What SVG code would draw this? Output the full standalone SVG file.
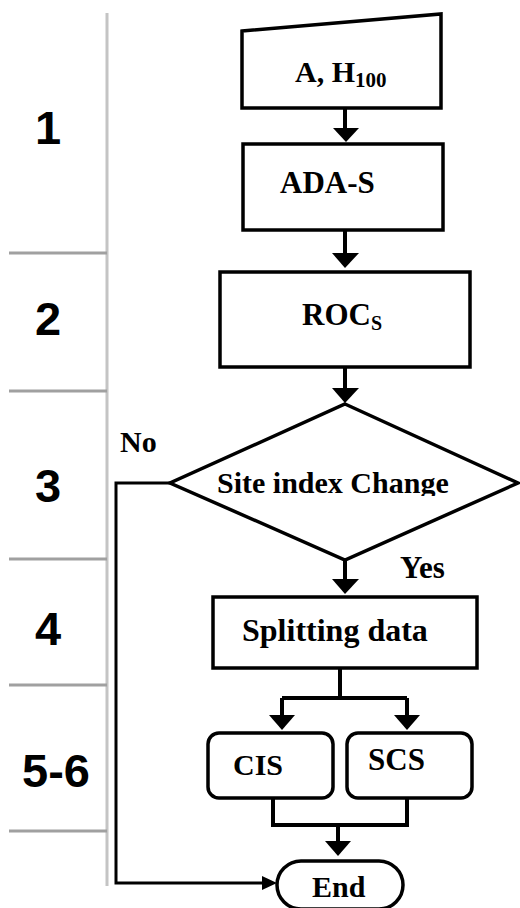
<svg xmlns="http://www.w3.org/2000/svg" width="520" height="908" viewBox="0 0 520 908">
  <style>
    .shape { fill: #ffffff; stroke: #000000; stroke-width: 3.5; }
    .wire { fill: none; stroke: #000000; stroke-width: 4; }
    .thin { fill: none; stroke: #000000; stroke-width: 3; }
    .lbl { font-family: 'Liberation Serif', 'DejaVu Serif', serif; font-weight: bold; font-size: 30px; fill: #000000; }
    .lg { font-size: 31px; }
    .xl { font-size: 32px; }
    .step { font-family: 'Liberation Sans', Arial, sans-serif; font-weight: bold; font-size: 47px; fill: #000000; text-anchor: middle; }
    .rule { stroke: #a0a0a0; stroke-width: 3; }
    .spine { stroke: #c4c4c4; stroke-width: 3; }
  </style>
  <defs>
    <clipPath id="diamondText">
      <rect x="170" y="440" width="350" height="56"/>
    </clipPath>
  </defs>
  <rect width="520" height="908" fill="#ffffff"/>

  <!-- step column -->
  <g id="steps">
    <line class="spine" x1="107" y1="13" x2="107" y2="886"/>
    <line class="rule" x1="9" y1="253" x2="107" y2="253"/>
    <line class="rule" x1="9" y1="391" x2="107" y2="391"/>
    <line class="rule" x1="9" y1="559" x2="107" y2="559"/>
    <line class="rule" x1="9" y1="685" x2="107" y2="685"/>
    <line class="rule" x1="9" y1="831" x2="107" y2="831"/>
    <text class="step" x="48" y="144">1</text>
    <text class="step" x="48" y="335">2</text>
    <text class="step" x="48" y="502">3</text>
    <text class="step" x="48" y="645">4</text>
    <text class="step" x="56" y="787">5-6</text>
  </g>

  <!-- connectors -->
  <g id="connectors">
    <path class="wire" d="M345,108 L345,132" />
    <polygon points="333,128 359,128 346,142" fill="#000"/>
    <path class="wire" d="M345,230 L345,256" />
    <polygon points="332,253 359,253 345,268" fill="#000"/>
    <path class="wire" d="M345,367 L345,391" />
    <polygon points="332,388 359,388 345,403" fill="#000"/>
    <path class="wire" d="M345,560 L345,580" />
    <polygon points="332,579 359,579 345,594" fill="#000"/>
    <path class="wire" d="M340,668 L340,698 M282,698 L407,698 M282,698 L282,716 M407,698 L407,716" />
    <polygon points="269,715 295,715 282,730" fill="#000"/>
    <polygon points="394,715 420,715 407,730" fill="#000"/>
    <path class="wire" d="M273,798 L273,825 L407,825 L407,798 M338,825 L338,842" />
    <polygon points="325,841 351,841 338,856" fill="#000"/>
    <path class="thin" d="M170,483 L116,483 L116,883 L266,883" />
    <polygon points="262,876 262,890 277,883" fill="#000"/>
    <text class="lbl" x="120" y="452">No</text>
    <text class="lbl lg" x="400" y="578">Yes</text>
  </g>

  <g id="input">
    <polygon class="shape" points="242,31 441,14 441,108 242,108"/>
    <text class="lbl" x="295" y="82">A, H<tspan font-size="21" dy="5">100</tspan></text>
  </g>

  <g id="adas">
    <rect class="shape" x="243" y="144" width="200" height="86"/>
    <text class="lbl lg" x="280" y="193">ADA-S</text>
  </g>

  <g id="rocs">
    <rect class="shape" x="220" y="272" width="250" height="95"/>
    <text class="lbl lg" x="302" y="325">ROC<tspan font-size="20" dy="5">S</tspan></text>
  </g>

  <g id="decision">
    <polygon class="shape" points="345,404 518,483 345,560 170,483"/>
    <text class="lbl" x="217" y="493" clip-path="url(#diamondText)">Site index Change</text>
  </g>

  <g id="split">
    <rect class="shape" x="213" y="597" width="264" height="71"/>
    <text class="lbl xl" x="242" y="641">Splitting data</text>
  </g>

  <g id="cis">
    <rect class="shape" x="208" y="733" width="125" height="65" rx="11"/>
    <text class="lbl" x="233" y="775">CIS</text>
  </g>

  <g id="scs">
    <rect class="shape" x="347" y="733" width="125" height="65" rx="11"/>
    <text class="lbl lg" x="368" y="770">SCS</text>
  </g>

  <g id="end">
    <rect class="shape" x="277" y="861" width="126" height="48" rx="24"/>
    <text class="lbl" x="312" y="897">End</text>
  </g>
</svg>
